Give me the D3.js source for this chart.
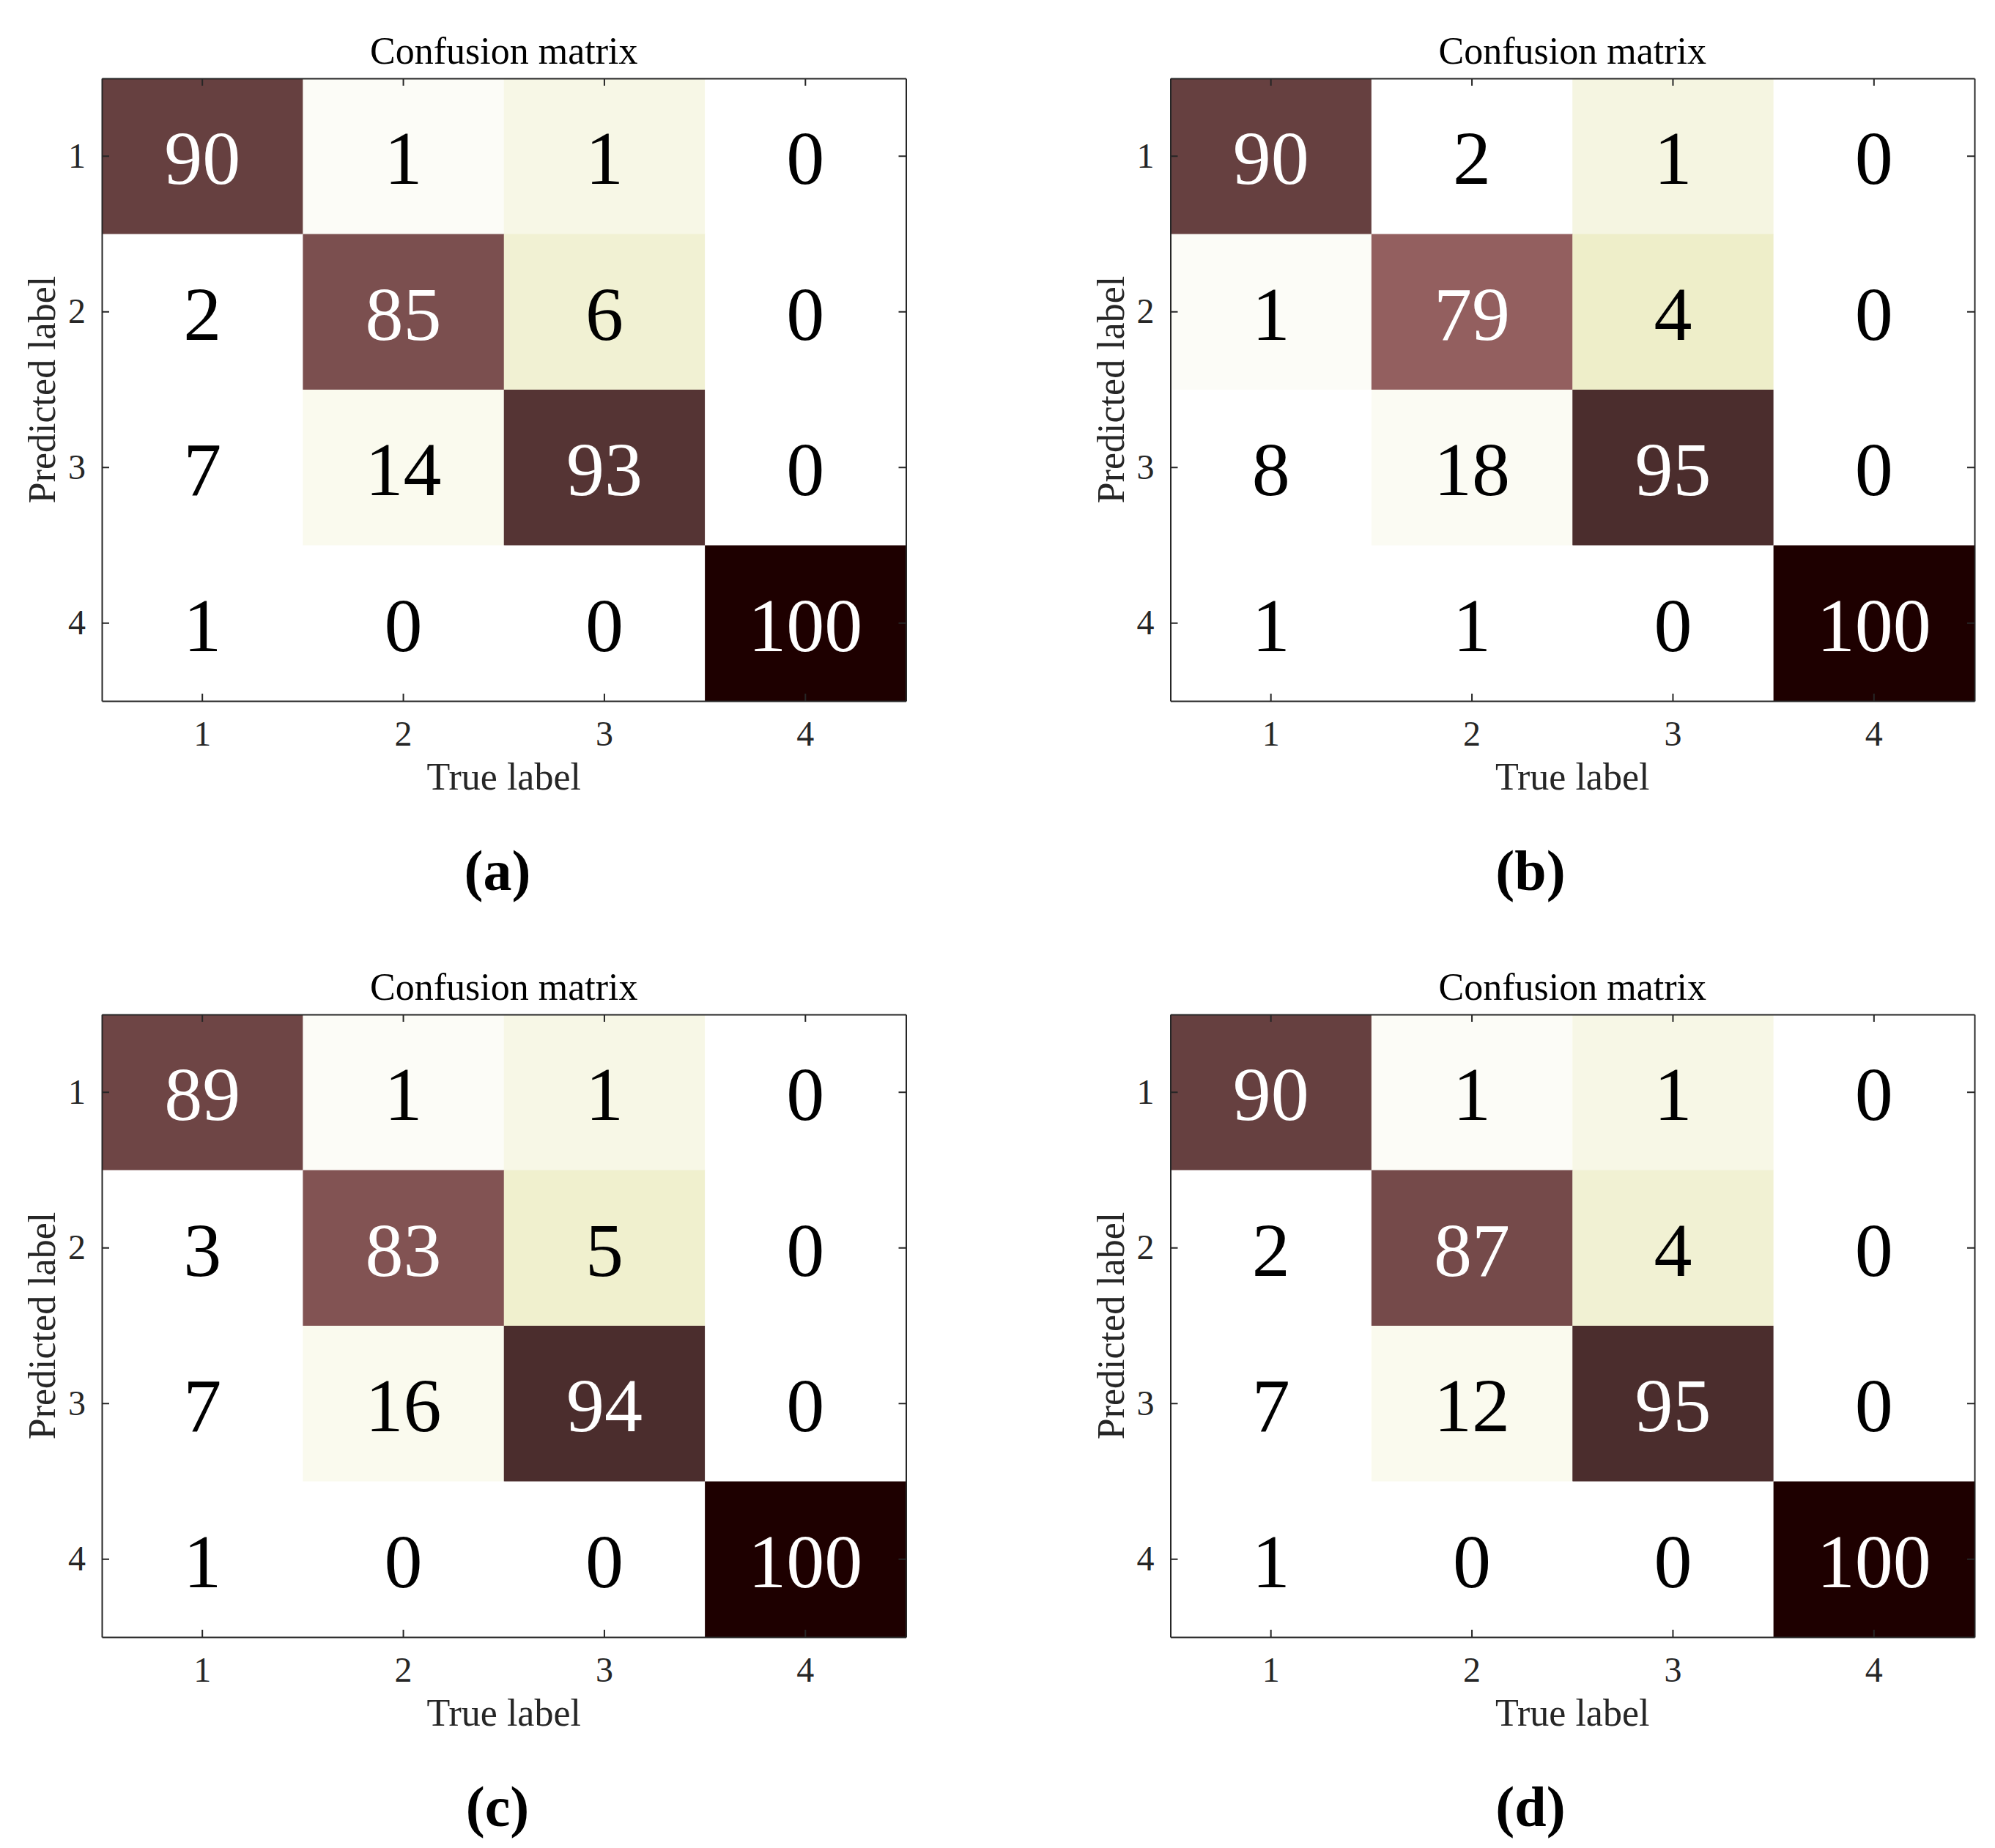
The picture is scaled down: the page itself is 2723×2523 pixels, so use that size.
<!DOCTYPE html>
<html>
<head>
<meta charset="utf-8">
<script src="https://cdn.jsdelivr.net/npm/d3@7"></script>
<style>
  html, body { margin: 0; padding: 0; background: #ffffff; }
  svg { display: block; }
</style>
</head>
<body>
<svg id="chart" width="2723" height="2523"></svg>
<script>
// ---------------- DATA ----------------
const classLabels = ["1", "2", "3", "4"];           // tick labels (true / predicted class)
const panelLetters = ["(a)", "(b)", "(c)", "(d)"];
const panelTitle = "Confusion matrix";
const xLabelText = "True label";
const yLabelText = "Predicted label";

// displayed values (rows = predicted label, columns = true label)
const valuesA = [[90, 1, 1, 0], [2, 85, 6, 0], [7, 14, 93, 0], [1, 0, 0, 100]];
const valuesB = [[90, 2, 1, 0], [1, 79, 4, 0], [8, 18, 95, 0], [1, 1, 0, 100]];
const valuesC = [[89, 1, 1, 0], [3, 83, 5, 0], [7, 16, 94, 0], [1, 0, 0, 100]];
const valuesD = [[90, 1, 1, 0], [2, 87, 4, 0], [7, 12, 95, 0], [1, 0, 0, 100]];

// colour level of each cell (0..100 on the colour scale)
const shadeA = [[90, 3.6, 10, 0], [0, 85, 17, 0], [0, 6.5, 93, 0], [0, 0, 0, 100]];
const shadeB = [[90, 0, 11, 0], [3.6, 79, 19, 0], [0, 5, 95, 0], [0, 0, 0, 100]];
const shadeC = [[89, 3.6, 10, 0], [0, 83, 18, 0], [0, 6.5, 94, 0], [0, 0, 0, 100]];
const shadeD = [[90, 3.6, 10, 0], [0, 87, 17, 0], [0, 6.5, 95, 0], [0, 0, 0, 100]];

const panelValues = [valuesA, valuesB, valuesC, valuesD];
const panelShades = [shadeA, shadeB, shadeC, shadeD];

// ---------------- COLOUR MAP (flipped MATLAB "pink", 64 levels) ----------------
function pinkMap(m) {
  const n = Math.floor(3 / 8 * m);
  const out = [];
  for (let i = 0; i < m; i++) {
    const gray = i / (m - 1);
    const hr = i < n ? (i + 1) / n : 1;
    const hg = i < n ? 0 : (i < 2 * n ? (i - n + 1) / n : 1);
    const hb = i < 2 * n ? 0 : (i - 2 * n + 1) / (m - 2 * n);
    const r = Math.sqrt((2 * gray + hr) / 3);
    const g = Math.sqrt((2 * gray + hg) / 3);
    const b = Math.sqrt((2 * gray + hb) / 3);
    out.push(d3.rgb(Math.round(r * 255), Math.round(g * 255), Math.round(b * 255)).formatHex());
  }
  return out;
}
const cmap = pinkMap(64).reverse();
const colour = d3.scaleQuantize().domain([0, 100]).range(cmap);

// ---------------- LAYOUT ----------------
const plotW = 1097.5, plotH = 850;
const colLeft = [139, 1597.5];
const rowTop = [107, 1385];
const letterCenter = [679, 2089];
const serif = "'Liberation Serif', 'Times New Roman', Times, serif";
const axisColor = "#262626";

const svg = d3.select("#chart");

panelValues.forEach((vals, p) => {
  const col = p % 2, row = Math.floor(p / 2);
  const left = colLeft[col], top = rowTop[row];
  const shades = panelShades[p];

  const x = d3.scaleBand().domain(classLabels).range([0, plotW]).paddingInner(0).paddingOuter(0);
  const y = d3.scaleBand().domain(classLabels).range([0, plotH]).paddingInner(0).paddingOuter(0);

  const g = svg.append("g").attr("transform", `translate(${left},${top})`);

  const cells = [];
  vals.forEach((r, i) => r.forEach((v, j) => cells.push({ row: classLabels[i], col: classLabels[j], v, s: shades[i][j] })));

  g.selectAll("rect.cell").data(cells).join("rect")
    .attr("class", "cell")
    .attr("x", d => x(d.col))
    .attr("y", d => y(d.row))
    .attr("width", x.bandwidth() + 0.5)
    .attr("height", y.bandwidth() + 0.5)
    .attr("fill", d => colour(d.s));

  g.selectAll("text.val").data(cells).join("text")
    .attr("class", "val")
    .attr("x", d => x(d.col) + x.bandwidth() / 2)
    .attr("y", d => y(d.row) + y.bandwidth() / 2 + 38)
    .attr("text-anchor", "middle")
    .attr("font-family", serif)
    .attr("font-size", 104)
    .attr("fill", d => d.v > 50 ? "#ffffff" : "#000000")
    .text(d => d.v);

  // axes with inward ticks
  const bottomAxis = d3.axisBottom(x).tickSizeInner(-10).tickSizeOuter(0).tickPadding(27);
  const leftAxis = d3.axisLeft(y).tickSizeInner(-10).tickSizeOuter(0).tickPadding(22);
  const topAxis = d3.axisTop(x).tickSizeInner(-10).tickSizeOuter(0).tickFormat("");
  const rightAxis = d3.axisRight(y).tickSizeInner(-10).tickSizeOuter(0).tickFormat("");

  const styleAxis = sel => {
    sel.selectAll("path.domain").attr("stroke", axisColor).attr("stroke-width", 2);
    sel.selectAll(".tick line").attr("stroke", axisColor).attr("stroke-width", 2);
    sel.selectAll(".tick text").attr("fill", axisColor).attr("font-family", serif).attr("font-size", 48);
  };

  g.append("g").attr("transform", `translate(0,${plotH})`).call(bottomAxis).call(styleAxis);
  g.append("g").call(leftAxis).call(styleAxis);
  g.append("g").call(topAxis).call(styleAxis);
  g.append("g").attr("transform", `translate(${plotW},0)`).call(rightAxis).call(styleAxis);

  // title
  g.append("text")
    .attr("x", plotW / 2).attr("y", -20)
    .attr("text-anchor", "middle")
    .attr("font-family", serif).attr("font-size", 52)
    .attr("fill", "#000000")
    .text(panelTitle);

  // x label
  g.append("text")
    .attr("x", plotW / 2).attr("y", plotH + 121)
    .attr("text-anchor", "middle")
    .attr("font-family", serif).attr("font-size", 52)
    .attr("fill", axisColor)
    .text(xLabelText);

  // y label
  g.append("text")
    .attr("transform", `translate(-64,${plotH / 2}) rotate(-90)`)
    .attr("text-anchor", "middle")
    .attr("font-family", serif).attr("font-size", 52)
    .attr("fill", axisColor)
    .text(yLabelText);

  // sub-figure letter
  svg.append("text")
    .attr("x", letterCenter[col]).attr("y", top + plotH + 258)
    .attr("text-anchor", "middle")
    .attr("font-family", serif).attr("font-size", 78).attr("font-weight", "bold")
    .attr("fill", "#000000")
    .text(panelLetters[p]);
});
</script>
</body>
</html>
